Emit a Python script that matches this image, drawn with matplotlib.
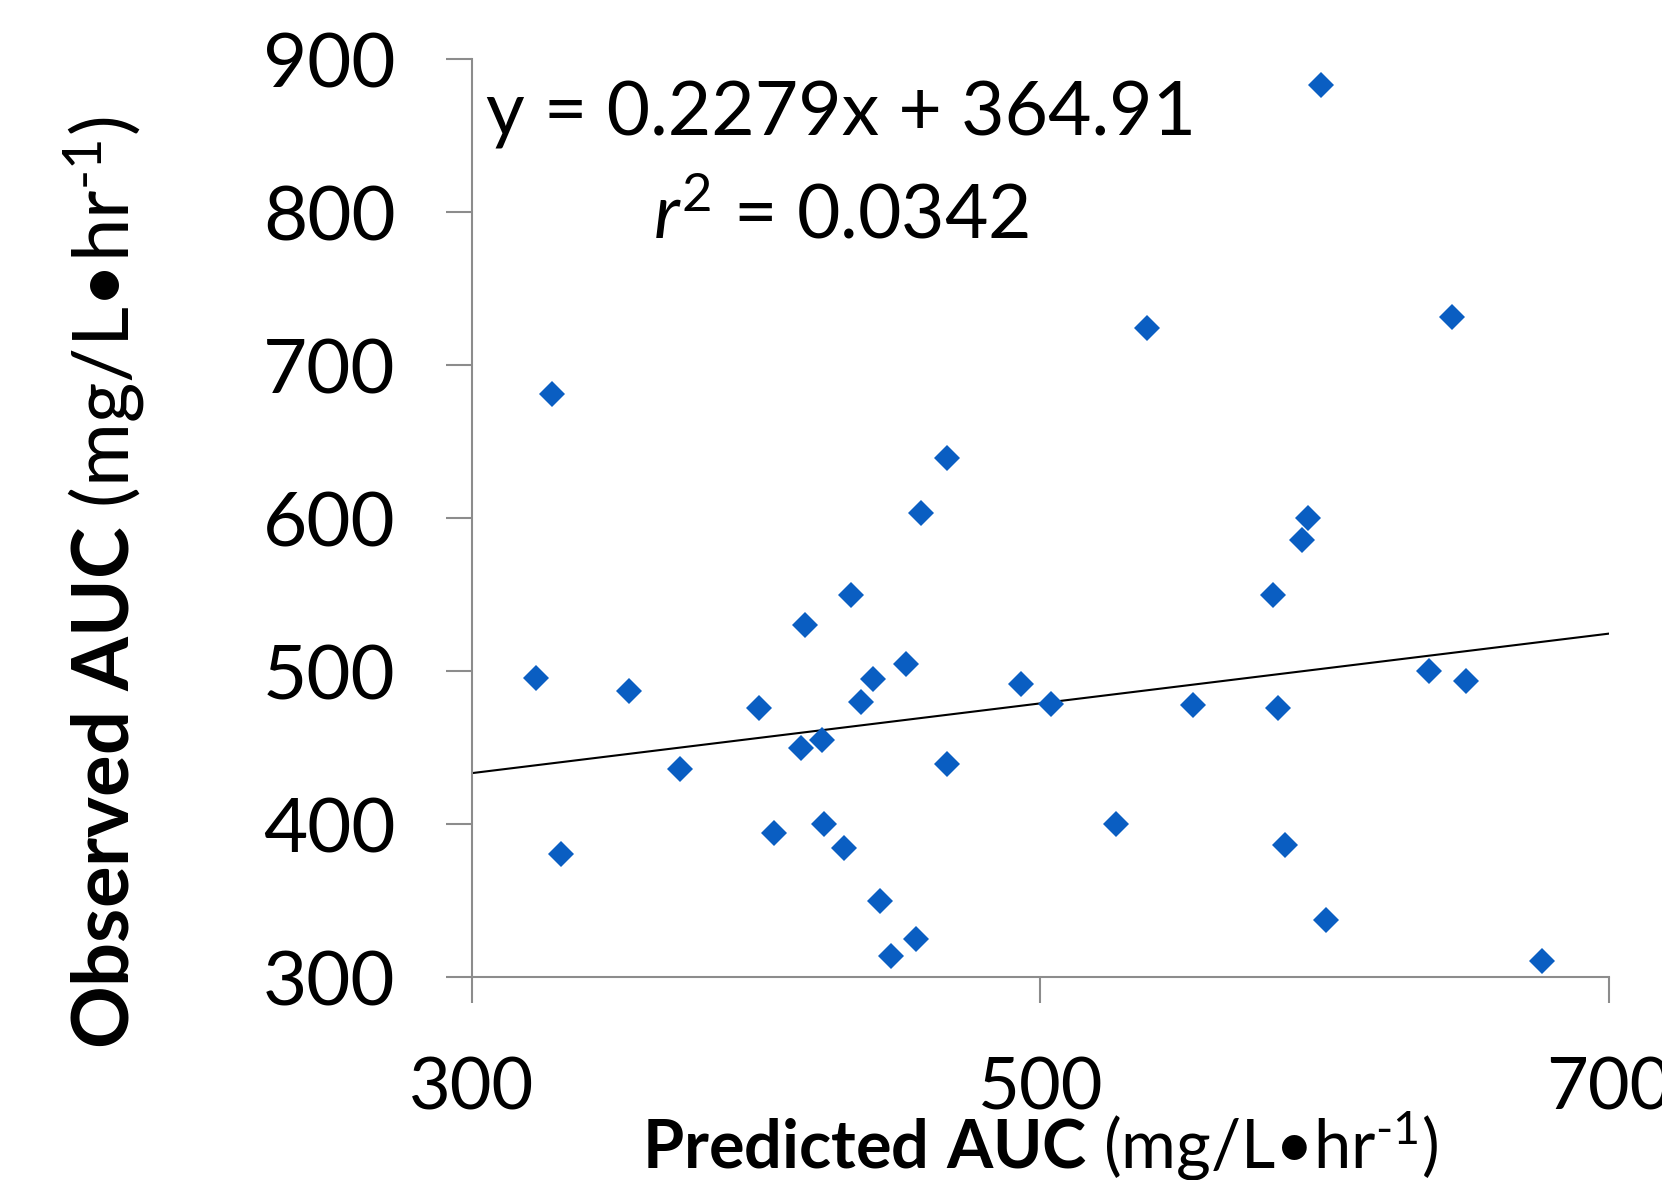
import numpy as np
import matplotlib
matplotlib.use("Agg")
from matplotlib import pyplot as plt

plt.rcParams['font.family'] = ['Lato', 'DejaVu Sans']
plt.rcParams['mathtext.fontset'] = 'custom'
plt.rcParams['mathtext.rm'] = 'Lato'
plt.rcParams['mathtext.it'] = 'Lato:italic'
plt.rcParams['mathtext.bf'] = 'Lato:bold'

# predicted vs observed AUC
predicted = [322.4, 328.0, 331.3, 355.2, 373.1, 401.0, 406.2, 415.9, 417.0, 423.0,
             423.8, 430.9, 433.5, 436.9, 441.0, 443.5, 447.3, 452.8, 456.2, 458.0,
             467.0, 467.0, 493.1, 503.9, 526.6, 537.4, 553.8, 581.8, 583.7, 585.9,
             591.9, 594.1, 598.6, 600.5, 636.6, 644.8, 649.7, 676.5]
observed = [495.3, 681.0, 380.3, 487.0, 435.7, 476.0, 394.0, 450.0, 530.0, 455.0,
            400.3, 384.4, 550.0, 480.0, 495.0, 349.8, 313.7, 504.3, 324.8, 603.4,
            639.4, 439.2, 491.8, 478.7, 400.3, 724.0, 478.0, 550.0, 476.0, 386.5,
            585.4, 600.0, 882.7, 337.3, 500.1, 731.6, 493.2, 310.3]
slope, intercept = 0.2279, 364.91
r_squared = 0.0342

x_ticks = [300, 500, 700]
y_ticks = [300, 400, 500, 600, 700, 800, 900]

fig = plt.figure(figsize=(16.62, 11.8), dpi=100)
ax = fig.add_axes([0.284, 0.172, 0.684, 0.778])

ax.plot(predicted, observed, linestyle='none', marker='D', markersize=13,
        color='#0A5EC2', markeredgewidth=0, clip_on=False, zorder=3)
fit_x = np.array([300, 700])
ax.plot(fit_x, slope * fit_x + intercept, color='black', linewidth=1.5, zorder=2)

ax.set_xlim(300, 700)
ax.set_ylim(300, 900)
ax.set_xticks(x_ticks)
ax.set_yticks(y_ticks)
for s in ['top', 'right']:
    ax.spines[s].set_visible(False)
for s in ['left', 'bottom']:
    ax.spines[s].set_color('#8C8C8C')
    ax.spines[s].set_linewidth(1.5)
ax.tick_params(axis='both', colors='#8C8C8C', width=1.5, length=19,
               labelsize=52, labelcolor='black')
ax.tick_params(axis='y', pad=36, labelsize=55)
ax.tick_params(axis='x', pad=38)

ax.text(430, 850, f"y = {slope}x + {intercept}", fontsize=54, ha='center', va='baseline')
ax.text(430, 783, r"$\mathit{r}^{2}$" + f" = {r_squared}", fontsize=54, ha='center', va='baseline')

fig.text(0.626, 0.01, r"$\mathbf{Predicted\ AUC}$ (mg/L•hr$^{\text{-}1}$)",
         fontsize=48, ha='center', va='baseline')
fig.text(0.063, 0.506, r"$\mathbf{Observed\ AUC}$ (mg/L•hr$^{\text{-}1}$)",
         fontsize=56, ha='center', va='center', rotation=90)

fig.savefig("out.png", dpi=100)
